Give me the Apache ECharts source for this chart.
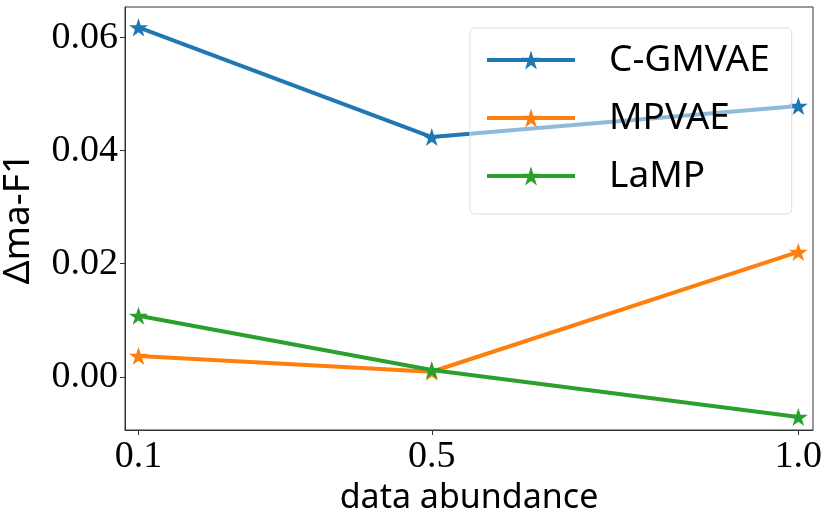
<!DOCTYPE html>
<html>
<head>
<meta charset="UTF-8">
<title>data abundance</title>
<script src="https://cdn.jsdelivr.net/npm/echarts@6/dist/echarts.min.js"></script>
<style>
  html, body { margin: 0; padding: 0; background: #fff; }
  #chart { width: 831px; height: 529px; }
</style>
</head>
<body>
<div id="chart"></div>
<script>
// data
const abundance = [0.1, 0.5, 1.0];
const cgmvae = [0.0618, 0.0424, 0.0479];
const mpvae = [0.0037, 0.0009, 0.0221];
const lamp = [0.0108, 0.0012, -0.0071];
const seriesNames = ['C-GMVAE', 'MPVAE', 'LaMP'];
const colors = ['#1f77b4', '#ff7f0e', '#2ca02c'];
const xTicks = [0.1, 0.5, 1.0];
const yTicks = [0, 0.02, 0.04, 0.06];

// matplotlib-like '*' marker
const star = 'path://M100 0 L122.45 69.1 L195.11 69.1 L136.33 111.8 L158.78 180.9 L100 138.2 L41.22 180.9 L63.67 111.8 L4.89 69.1 L77.55 69.1 Z';

const serif = "'Liberation Serif', 'DejaVu Serif', serif";
const sans = "'Noto Sans', 'DejaVu Sans', sans-serif";

function pairs(ys) {
    return abundance.map((x, i) => [x, ys[i]]);
}

const chart = echarts.init(document.getElementById('chart'), null, { renderer: 'canvas' });

chart.setOption({
    animation: false,
    grid: {
        left: 125, right: 18, top: 7, bottom: 99,
        outerBoundsMode: 'none',
        containLabel: false,
        show: true, borderColor: '#333', borderWidth: 1
    },
    legend: {
        orient: 'vertical',
        left: 470, top: 28,
        padding: [10, 22, 16, 15],
        itemWidth: 88,
        itemHeight: 24,
        itemGap: 14,
        backgroundColor: 'rgba(255,255,255,0.5)',
        borderColor: '#ddd',
        borderWidth: 1,
        borderRadius: 5,
        lineStyle: { width: 4 },
        textStyle: {
            fontFamily: sans, fontSize: 37, color: '#000',
            lineHeight: 44, padding: [0, 0, 0, 29]
        },
        data: seriesNames
    },
    xAxis: {
        type: 'value',
        min: 0.0816, max: 1.02,
        name: 'data abundance',
        nameLocation: 'middle',
        nameGap: 48,
        nameTextStyle: { fontFamily: sans, fontSize: 34, color: '#000' },
        axisLine: { show: true, onZero: false, lineStyle: { color: '#333', width: 1 } },
        axisTick: { show: true, length: 5, lineStyle: { color: '#333' }, customValues: xTicks },
        axisLabel: {
            fontFamily: serif, fontSize: 38, color: '#000', margin: 8,
            customValues: xTicks,
            formatter: v => v.toFixed(1)
        },
        splitLine: { show: false }
    },
    yAxis: {
        type: 'value',
        min: -0.0094, max: 0.0654,
        name: 'Δma-F1',
        nameLocation: 'middle',
        nameGap: 88,
        nameTextStyle: { fontFamily: sans, fontSize: 37, color: '#000' },
        axisLine: { show: true, onZero: false, lineStyle: { color: '#333', width: 1 } },
        axisTick: { show: true, length: 5, lineStyle: { color: '#333' }, customValues: yTicks },
        axisLabel: {
            fontFamily: serif, fontSize: 38, color: '#000', margin: 7,
            customValues: yTicks,
            formatter: v => v.toFixed(2)
        },
        splitLine: { show: false }
    },
    series: [cgmvae, mpvae, lamp].map((ys, i) => ({
        name: seriesNames[i],
        type: 'line',
        data: pairs(ys),
        color: colors[i],
        symbol: star,
        symbolSize: 19,
        symbolKeepAspect: true,
        showSymbol: true,
        lineStyle: { width: 4, color: colors[i] },
        itemStyle: { color: colors[i] },
        z: 2 + i
    }))
});
</script>
</body>
</html>
